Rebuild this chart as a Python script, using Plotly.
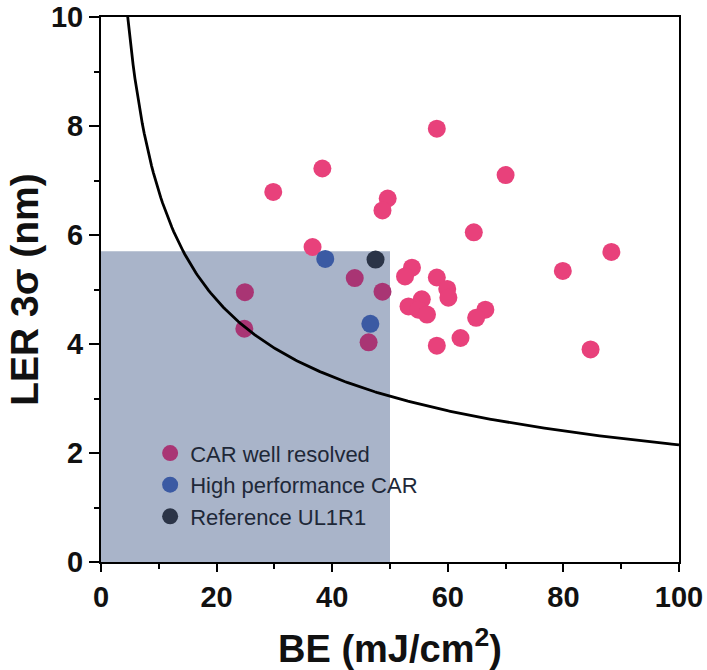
import numpy as np
import plotly.graph_objects as go

# ---- data ----
car_be = [29.8, 38.3, 58.1, 70.0, 49.6, 48.7, 36.6, 64.5, 88.3, 79.9, 84.7,
          53.8, 52.6, 58.1, 59.9, 60.1, 53.2, 55.5, 54.9, 56.4, 66.5, 64.9,
          62.2, 58.1, 43.9, 48.7, 24.9, 24.8, 46.3]
car_ler = [6.79, 7.22, 7.95, 7.10, 6.67, 6.45, 5.78, 6.05, 5.69, 5.34, 3.90,
           5.40, 5.24, 5.22, 5.01, 4.85, 4.69, 4.82, 4.63, 4.54, 4.63, 4.48,
           4.11, 3.97, 5.21, 4.96, 4.95, 4.28, 4.03]
hp_be = [38.8, 46.6]
hp_ler = [5.56, 4.37]
ref_be = [47.5]
ref_ler = [5.55]

# target window (BE <= 50 mJ/cm2, LER <= 5.7 nm)
box_be = 50.0
box_ler = 5.7

# model trade-off curve LER = K / sqrt(BE)
curve_k = 21.5
curve_be = np.linspace(4.6, 100, 300)
curve_ler = curve_k / np.sqrt(curve_be)

x_ticks = [0, 20, 40, 60, 80, 100]
y_ticks = [0, 2, 4, 6, 8, 10]

# ---- styling ----
PINK = "#e8417b"
MAGENTA = "#a93574"
BLUE = "#3b5aa3"
DARK = "#2b3447"
BOXC = "#a9b4c9"
FONT = "Liberation Sans, Arial, sans-serif"

car_be = np.array(car_be)
car_ler = np.array(car_ler)
inside = (car_be <= box_be) & (car_ler <= box_ler)

fig = go.Figure()
fig.add_shape(type="rect", x0=0, x1=box_be, y0=0, y1=box_ler,
              xref="x", yref="y", fillcolor=BOXC, line_width=0, layer="below")

fig.add_trace(go.Scatter(x=car_be[~inside], y=car_ler[~inside], mode="markers",
                         marker=dict(size=18, color=PINK), showlegend=False))
fig.add_trace(go.Scatter(x=car_be[inside], y=car_ler[inside], mode="markers",
                         name="CAR well resolved",
                         marker=dict(size=18, color=MAGENTA)))
fig.add_trace(go.Scatter(x=hp_be, y=hp_ler, mode="markers",
                         name="High performance CAR",
                         marker=dict(size=18, color=BLUE)))
fig.add_trace(go.Scatter(x=ref_be, y=ref_ler, mode="markers",
                         name="Reference UL1R1",
                         marker=dict(size=18, color=DARK)))
fig.add_trace(go.Scatter(x=curve_be, y=curve_ler, mode="lines",
                         line=dict(color="black", width=2.8), showlegend=False))

axis_common = dict(showgrid=False, zeroline=False, showline=True,
                   linecolor="black", linewidth=2, mirror=True,
                   ticks="outside", tickcolor="black", tickwidth=2,
                   automargin=False, ticklabeloverflow="allow",
                   tickfont=dict(family=FONT, size=29, color="#111111",
                                 weight="bold"))

fig.update_xaxes(range=[0, 100], tickvals=x_ticks, ticklen=8,
                 minor=dict(dtick=10, ticks="outside", ticklen=5,
                            tickcolor="black", tickwidth=2),
                 title=dict(text="BE (mJ/cm<sup>2</sup>)",
                            font=dict(family=FONT, size=38, color="#111111",
                                      weight="bold"),
                            standoff=26),
                 **axis_common)
fig.update_yaxes(range=[0, 10], tickvals=y_ticks, ticklen=10,
                 minor=dict(dtick=1, ticks="outside", ticklen=5,
                            tickcolor="black", tickwidth=2),
                 title=dict(text="LER 3σ (nm)",
                            font=dict(family=FONT, size=39, color="#111111",
                                      weight="bold"),
                            standoff=0),
                 **axis_common)

fig.update_layout(
    width=707, height=670,
    margin=dict(l=101, r=28, t=17, b=108),
    paper_bgcolor="white", plot_bgcolor="white",
    font=dict(family=FONT),
    legend=dict(x=0.085, y=0.238, xanchor="left", yanchor="top",
                bgcolor="rgba(0,0,0,0)",
                font=dict(family=FONT, size=22, color="#1e2838"),
                tracegroupgap=0),
)

fig.write_html("out.html", config={"displayModeBar": False},
               post_script="document.body.style.margin='0';document.body.style.overflow='hidden';")
